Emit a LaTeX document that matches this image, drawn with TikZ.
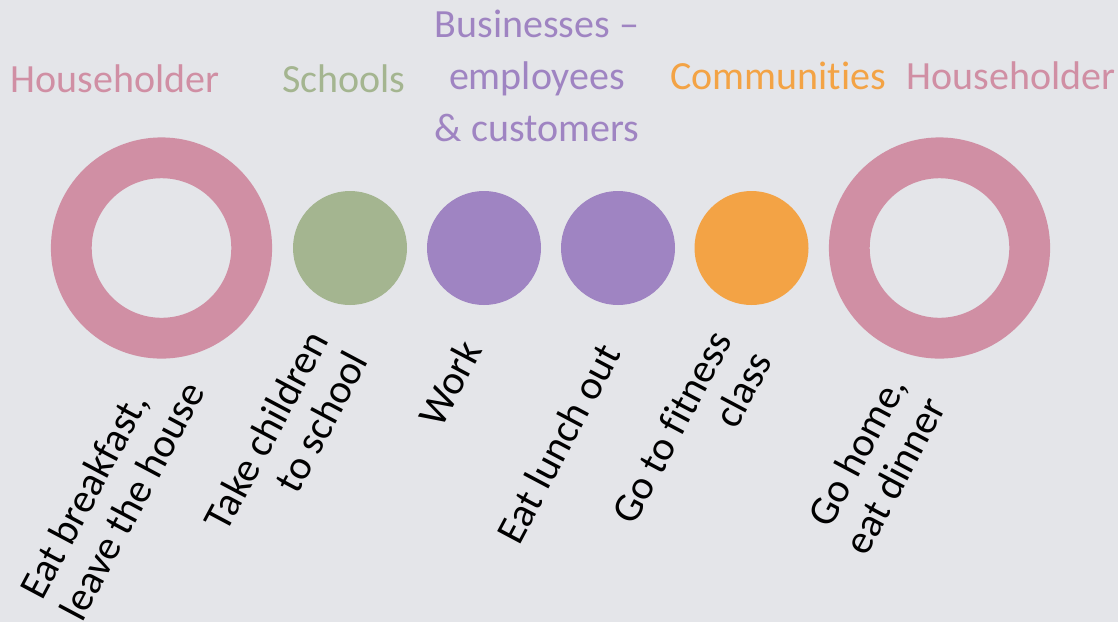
\documentclass[tikz,border=0pt]{standalone}
\usepackage{fontspec}
\setmainfont{Carlito}[Ligatures=NoCommon]
\definecolor{bg}{RGB}{228,229,233}
\definecolor{rose}{RGB}{208,143,164}
\definecolor{sage}{RGB}{164,181,144}
\definecolor{lilac}{RGB}{159,132,194}
\definecolor{amber}{RGB}{243,163,69}
\begin{document}
\begin{tikzpicture}[x=1pt,y=-1pt,
  ring/.style={circle, draw=rose, line width=40.8pt, minimum size=180.4pt, inner sep=0pt},
  dot/.style={circle, fill=#1, minimum size=114pt, inner sep=0pt},
  group/.style={text=#1, font=\fontsize{40}{52}\selectfont, inner sep=0pt, align=center},
  task/.style={font=\fontsize{41}{45}\selectfont, inner sep=0pt, rotate=62, text=black}]
\useasboundingbox (0,0) rectangle (1118,622);
\fill[bg] (0,0) rectangle (1118,622);
\clip (0,0) rectangle (1118,622);

% stops of the day
\node[ring] (home1) at (161.5,248) {};
\node[dot=sage]  (school) at (350,248) {};
\node[dot=lilac] (work)   at (484,248) {};
\node[dot=lilac] (lunch)  at (618,248) {};
\node[dot=amber] (gym)    at (751.5,248) {};
\node[ring] (home2) at (939.5,248) {};

% who is involved
\node[group=rose,  anchor=base] (g1) at (115,92) {Householder};
\node[group=sage,  anchor=base] (g2) at (344,92) {Schools};
\node[group=lilac] (g3) at (537,76) {Businesses –\\employees\\\& customers};
\node[group=amber, anchor=base] (g4) at (778,89) {Communities};
\node[group=rose,  anchor=base] (g5) at (1011,89) {Householder};

% what happens there
\node[task, align=left,  anchor=west]  (t1) at (50,606)  {Eat breakfast,\\leave the house};
\node[task, align=right, anchor=east]  (t2) at (337,344) {Take children\\to school};
\node[task] (t3) at (450,383) {Work};
\node[task] (t4) at (558,443) {Eat lunch out};
\node[task, align=right, anchor=east]  (t5) at (741,344) {Go to fitness\\class};
\node[task, align=right, anchor=east]  (t6) at (915,389) {Go home,\\eat dinner};
\end{tikzpicture}
\end{document}
